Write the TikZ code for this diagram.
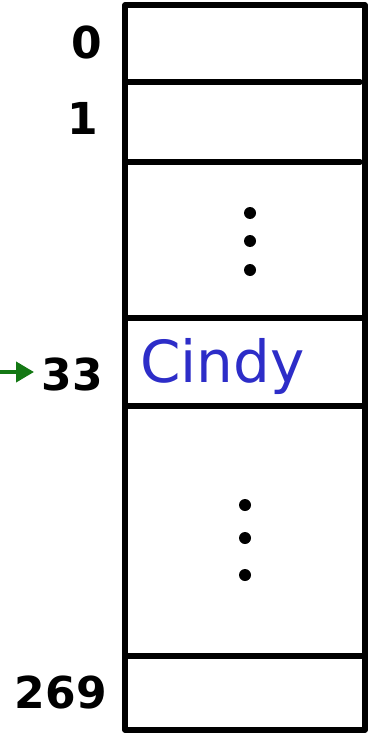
\documentclass[tikz,border=0pt]{standalone}
\usepackage{fontspec}
\setmainfont{DejaVu Sans}
\usetikzlibrary{arrows.meta}
\definecolor{cindyblue}{RGB}{45,45,200}
\definecolor{arrowgreen}{RGB}{20,120,20}
\begin{document}
\begin{tikzpicture}[x=1pt,y=-1pt,
  frame/.style={line width=5.5pt, line join=round, line cap=round},
  sep/.style={line width=5.5pt, line cap=round},
  idx/.style={font=\fontsize{44}{44}\selectfont\bfseries, anchor=east, inner sep=0pt},
  dot/.style={circle, fill=black, inner sep=0pt, minimum size=12pt}]
\useasboundingbox (0,0) rectangle (370,738);
\draw[frame] (125,5) rectangle (365,730);
\coordinate (l1) at (125,82);  \coordinate (r1) at (360,82);
\coordinate (l2) at (125,162); \coordinate (r2) at (360,162);
\coordinate (l3) at (125,318); \coordinate (r3) at (365,318);
\coordinate (l4) at (125,406); \coordinate (r4) at (365,406);
\coordinate (l5) at (125,656); \coordinate (r5) at (365,656);
\draw[sep] (l1) -- (r1);
\draw[sep] (l2) -- (r2);
\draw[sep] (l3) -- (r3);
\draw[sep] (l4) -- (r4);
\draw[sep] (l5) -- (r5);
\node[idx] (n0) at (102,42) {0};
\node[idx] (n1) at (98,118) {1};
\node[idx] (n33) at (103,374) {33};
\node[idx] (n269) at (107,692) {269};
\node[font=\fontsize{58}{58}\selectfont, text=cindyblue, anchor=west, inner sep=0pt] (cindy) at (140,366) {Cindy};
\node[dot] (a1) at (250,213) {};
\node[dot] (a2) at (250,241) {};
\node[dot] (a3) at (250,270) {};
\node[dot] (b1) at (245,505) {};
\node[dot] (b2) at (245,538) {};
\node[dot] (b3) at (245,575) {};
\coordinate (as) at (0,372);
\coordinate (ae) at (34,372);
\draw[arrowgreen, line width=4pt, -{Triangle[length=18pt,width=20pt]}] (as) -- (ae);
\end{tikzpicture}
\end{document}
